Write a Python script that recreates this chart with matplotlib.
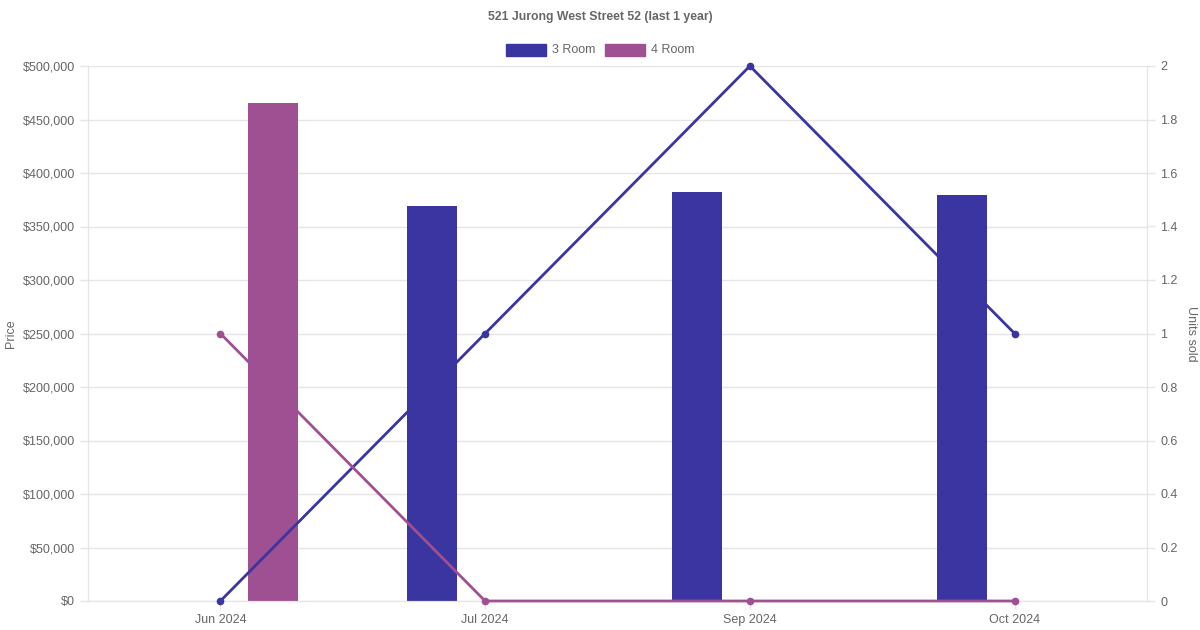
import numpy as np
import matplotlib.pyplot as plt
from matplotlib.ticker import FuncFormatter

plt.rcParams['font.family'] = ['Liberation Sans', 'DejaVu Sans']

months = ['Jun 2024', 'Jul 2024', 'Sep 2024', 'Oct 2024']
price_3room = [np.nan, 369000, 382000, 379500]
price_4room = [465000, np.nan, np.nan, np.nan]
sold_3room = [0, 1, 2, 1]
sold_4room = [1, 0, 0, 0]

c3 = '#3a35a0'
c4 = '#9f5093'
txt = '#666666'
grid = '#e5e5e5'

fig = plt.figure(figsize=(12, 6.3), dpi=100)
ax = fig.add_axes([88 / 1200, 29 / 630, (1147 - 88) / 1200, (601 - 66) / 630])
ax2 = ax.twinx()

x = np.arange(len(months))
w = 0.19
ax.bar(x - 0.2, price_3room, w, color=c3, zorder=2)
ax.bar(x + 0.2, price_4room, w, color=c4, zorder=2)

ax2.plot(x, sold_3room, color=c3, lw=2, marker='o', ms=4.5, zorder=3, clip_on=False)
ax2.plot(x, sold_4room, color=c4, lw=2, marker='o', ms=4.5, zorder=3, clip_on=False)

ax.set_xlim(-0.5, 3.5)
ax.set_ylim(0, 500000)
ax.set_yticks(np.arange(0, 500001, 50000))
ax.yaxis.set_major_formatter(FuncFormatter(lambda v, p: '${:,.0f}'.format(v)))
ax2.set_ylim(0, 2)
ax2.set_yticks(np.arange(0, 2.01, 0.2))
ax2.yaxis.set_major_formatter(FuncFormatter(lambda v, p: '{:g}'.format(round(v, 1))))

ax.set_xticks(x)
ax.set_xticklabels(months)
ax.grid(axis='y', color=grid, lw=1, zorder=0)
ax.set_axisbelow(True)

for a in (ax, ax2):
    for s in a.spines.values():
        s.set_color(grid)
    a.spines['top'].set_visible(False)
    a.tick_params(colors=txt, labelsize=9, length=6, width=1)
    a.tick_params(axis='both', color=grid)

ax.set_ylabel('Price', color=txt, fontsize=9, labelpad=4)
ax2.set_ylabel('Units sold', color=txt, fontsize=9, rotation=270, labelpad=14)

fig.text(0.5, 1 - 17 / 630, '521 Jurong West Street 52 (last 1 year)', ha='center', va='center',
         color=txt, fontsize=8.8, fontweight='bold')

# legend boxes
fig.patches.append(plt.Rectangle((506 / 1200, 1 - 56 / 630), 40 / 1200, 12 / 630,
                                 transform=fig.transFigure, color=c3))
fig.text(552 / 1200, 1 - 50 / 630, '3 Room', color=txt, fontsize=9, va='center')
fig.patches.append(plt.Rectangle((605 / 1200, 1 - 56 / 630), 40 / 1200, 12 / 630,
                                 transform=fig.transFigure, color=c4))
fig.text(651 / 1200, 1 - 50 / 630, '4 Room', color=txt, fontsize=9, va='center')

fig.savefig('out.png', dpi=100)
